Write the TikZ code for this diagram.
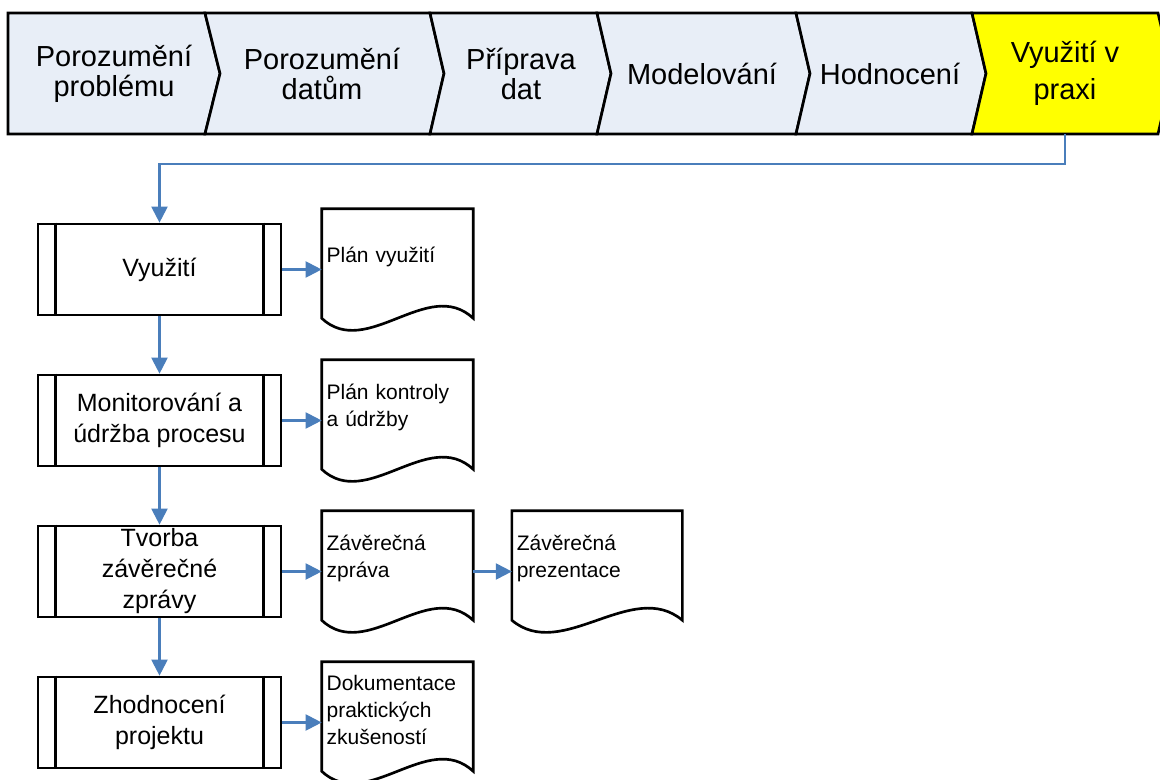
\documentclass[tikz,border=0pt]{standalone}
\usepackage{fontspec}
\setmainfont{Liberation Sans}
\usepackage{tikz}
\usetikzlibrary{arrows.meta, positioning}
\definecolor{flowblue}{HTML}{4A7EBB}
\definecolor{phasefill}{HTML}{E8EEF7}
\definecolor{phaseyellow}{HTML}{FFFF00}

\begin{document}
\begin{tikzpicture}[
    x=0.75pt,
    y=-0.75pt,
    node distance=43pt,
    phaseshape/.style={
        draw,
        line width=2pt,
        fill=phasefill
    },
    phaselabel/.style={
        minimum height=90.75pt,
        inner sep=0pt,
        align=center,
        font=\fontsize{21.75pt}{22.5pt}\selectfont
    },
    processnode/.style={
        draw,
        line width=2pt,
        minimum width=182.25pt,
        minimum height=68.25pt,
        inner sep=0pt,
        align=center,
        font=\fontsize{18.75pt}{23.25pt}\selectfont
    },
    docnode/.style={
        minimum width=113.25pt,
        minimum height=71.25pt,
        text width=106.25pt,
        inner xsep=3.5pt,
        inner ysep=0pt,
        align=left,
        font=\fontsize{15.75pt}{20.25pt}\selectfont
    },
    docline/.style={
        draw,
        line width=2pt
    },
    flowlink/.style={
        -{Triangle[length=12pt, width=12pt]},
        line width=1.6pt,
        flowblue
    }
]
    \useasboundingbox (0,0) rectangle (1160,780);
    \clip (0,0) rectangle (1160,780);

    % phase band
    \filldraw[phaseshape] (8,13) -- (205,13) -- (220,73.5) -- (205,134) -- (8,134) -- cycle;
    \filldraw[phaseshape] (205,13) -- (430,13) -- (444,73.5) -- (430,134) -- (205,134) -- (220,73.5) -- cycle;
    \filldraw[phaseshape] (430,13) -- (597,13) -- (611,73.5) -- (597,134) -- (430,134) -- (444,73.5) -- cycle;
    \filldraw[phaseshape] (597,13) -- (796,13) -- (810,73.5) -- (796,134) -- (597,134) -- (611,73.5) -- cycle;
    \filldraw[phaseshape] (796,13) -- (972,13) -- (986,73.5) -- (972,134) -- (796,134) -- (810,73.5) -- cycle;
    \filldraw[phaseshape, fill=phaseyellow] (972,13) -- (1158,13) -- (1172,73.5) -- (1158,134) -- (972,134) -- (986,73.5) -- cycle;

    \node[phaselabel] (problem) at (114,73.5) {Porozumění\\problému};
    \node[phaselabel] (data) at (322,73.5) {Porozumění\\datům};
    \node[phaselabel] (priprava) at (521,73.5) {Příprava\\dat};
    \node[phaselabel] (modelovani) at (702,73.5) {Modelování};
    \node[phaselabel] (hodnoceni) at (890,73.5) {Hodnocení};
    \node[phaselabel, font=\fontsize{21.75pt}{27.75pt}\selectfont] (praxe) at (1065,73.5) {Využití v\\praxi};

    % process steps
    \node[processnode] (vyuziti) at (159.5,269.5) {Využití};
    \node[processnode, below=of vyuziti] (monitorovani) {Monitorování a\\údržba procesu};
    \node[processnode, below=of monitorovani] (tvorba) {Tvorba\\závěrečné\\zprávy};
    \node[processnode, below=of tvorba] (zhodnoceni) {Zhodnocení\\projektu};

    \draw[line width=2pt] ([xshift=14.25pt]vyuziti.north west) -- ([xshift=14.25pt]vyuziti.south west);
    \draw[line width=2pt] ([xshift=-14.25pt]vyuziti.north east) -- ([xshift=-14.25pt]vyuziti.south east);
    \draw[line width=2pt] ([xshift=14.25pt]monitorovani.north west) -- ([xshift=14.25pt]monitorovani.south west);
    \draw[line width=2pt] ([xshift=-14.25pt]monitorovani.north east) -- ([xshift=-14.25pt]monitorovani.south east);
    \draw[line width=2pt] ([xshift=14.25pt]tvorba.north west) -- ([xshift=14.25pt]tvorba.south west);
    \draw[line width=2pt] ([xshift=-14.25pt]tvorba.north east) -- ([xshift=-14.25pt]tvorba.south east);
    \draw[line width=2pt] ([xshift=14.25pt]zhodnoceni.north west) -- ([xshift=14.25pt]zhodnoceni.south west);
    \draw[line width=2pt] ([xshift=-14.25pt]zhodnoceni.north east) -- ([xshift=-14.25pt]zhodnoceni.south east);

    % documents
    \node[docnode, right=29.5pt of vyuziti, yshift=9.75pt] (planvyuziti) {Plán využití};
    \node[docnode, right=29.5pt of monitorovani, yshift=9.75pt] (plankontroly) {Plán kontroly\\a údržby};
    \node[docnode, right=29.5pt of tvorba, yshift=9.75pt] (zprava) {Závěrečná\\zpráva};
    \node[docnode, minimum width=127.5pt, text width=120.5pt, right=29pt of zprava] (prezentace) {Závěrečná\\prezentace};
    \node[docnode, right=29.5pt of zhodnoceni, yshift=9.75pt] (dokumentace) {Dokumentace\\praktických\\zkušeností};

    \draw[docline] ([yshift=-10.5pt]planvyuziti.south west) -- (planvyuziti.north west) -- (planvyuziti.north east) -- ([yshift=-10.5pt]planvyuziti.south east) .. controls +(-45,-42) and +(45,42) .. ([yshift=-10.5pt]planvyuziti.south west) -- cycle;
    \draw[docline] ([yshift=-10.5pt]plankontroly.south west) -- (plankontroly.north west) -- (plankontroly.north east) -- ([yshift=-10.5pt]plankontroly.south east) .. controls +(-45,-42) and +(45,42) .. ([yshift=-10.5pt]plankontroly.south west) -- cycle;
    \draw[docline] ([yshift=-10.5pt]zprava.south west) -- (zprava.north west) -- (zprava.north east) -- ([yshift=-10.5pt]zprava.south east) .. controls +(-45,-42) and +(45,42) .. ([yshift=-10.5pt]zprava.south west) -- cycle;
    \draw[docline] ([yshift=-10.5pt]prezentace.south west) -- (prezentace.north west) -- (prezentace.north east) -- ([yshift=-10.5pt]prezentace.south east) .. controls +(-50,-42) and +(50,42) .. ([yshift=-10.5pt]prezentace.south west) -- cycle;
    \draw[docline] ([yshift=-10.5pt]dokumentace.south west) -- (dokumentace.north west) -- (dokumentace.north east) -- ([yshift=-10.5pt]dokumentace.south east) .. controls +(-45,-42) and +(45,42) .. ([yshift=-10.5pt]dokumentace.south west) -- cycle;

    % connectors
    \draw[flowlink] (praxe.south) -- ++(0,30) -| (vyuziti.north);
    \draw[flowlink] (vyuziti) -- (monitorovani);
    \draw[flowlink] (monitorovani) -- (tvorba);
    \draw[flowlink] (tvorba) -- (zhodnoceni);
    \draw[flowlink] (vyuziti.east) -- (vyuziti.east -| planvyuziti.west);
    \draw[flowlink] (monitorovani.east) -- (monitorovani.east -| plankontroly.west);
    \draw[flowlink] (tvorba.east) -- (tvorba.east -| zprava.west);
    \draw[flowlink] (tvorba.east -| zprava.east) -- (tvorba.east -| prezentace.west);
    \draw[flowlink] (zhodnoceni.east) -- (zhodnoceni.east -| dokumentace.west);
\end{tikzpicture}
\end{document}
